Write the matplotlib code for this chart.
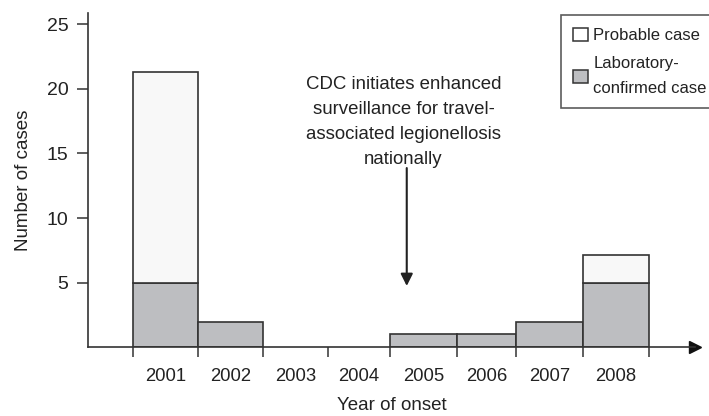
import matplotlib.pyplot as plt
from matplotlib.patches import Patch

plt.rcParams['font.family'] = ['Liberation Sans', 'DejaVu Sans']

# data
years = ['2001', '2002', '2003', '2004', '2005', '2006', '2007', '2008']
confirmed = [5, 2, 0, 0, 1, 1, 2, 5]
probable = [16.3, 0, 0, 0, 0, 0, 0, 2.15]

# bin edges as drawn (bars are not all equally wide in the original)
edges = [2000.5, 2001.51, 2002.52, 2003.53, 2004.49, 2005.53, 2006.45, 2007.49, 2008.5]

gray = '#bdbec1'
light = '#f8f8f8'
edge = '#333333'

fig = plt.figure(figsize=(7.09, 4.16), dpi=100)
ax = fig.add_axes([88 / 709, (416 - 347.4) / 416, (695 - 88) / 709, (347.4 - 13) / 416])

lefts = edges[:-1]
widths = [b - a for a, b in zip(edges[:-1], edges[1:])]
centers = [a + w / 2 for a, w in zip(lefts, widths)]

b1 = ax.bar(lefts, confirmed, width=widths, align='edge', color=gray, edgecolor=edge, linewidth=1.2, zorder=2)
b2 = ax.bar(lefts, probable, width=widths, bottom=confirmed, align='edge', color=light, edgecolor=edge,
            linewidth=1.2, zorder=2)
# years with no cases have no bars at all
for i in range(len(years)):
    if confirmed[i] == 0:
        b1[i].set_visible(False)
    if probable[i] == 0:
        b2[i].set_visible(False)

ax.set_xlim(1999.807, 2009.22)
ax.set_ylim(0, 25.86)

for s in ['top', 'right']:
    ax.spines[s].set_visible(False)
ax.spines['left'].set_color(edge)
ax.spines['bottom'].set_color(edge)
ax.spines['left'].set_linewidth(1.2)
ax.spines['bottom'].set_linewidth(1.2)
ax.plot(1, 0, '>', color='#111111', markersize=9, transform=ax.get_yaxis_transform(), clip_on=False)

ax.set_yticks([5, 10, 15, 20, 25])
ax.tick_params(axis='y', length=8, width=1.1, color=edge, pad=6, labelsize=14, labelcolor='#222222')
ax.set_xticks(edges)
ax.set_xticklabels([])
ax.tick_params(axis='x', which='major', length=7, width=1.1, color=edge, direction='out')
ax.set_xticks(centers, minor=True)
ax.set_xticklabels(years, minor=True)
ax.tick_params(axis='x', which='minor', length=0, pad=15, labelsize=13.3, labelcolor='#222222')

ax.set_xlabel('Year of onset', fontsize=13.5, labelpad=8.5, color='#222222')
ax.set_ylabel('Number of cases', fontsize=13.5, labelpad=11, color='#222222')

ax.text(2004.70, 21.0, 'CDC initiates enhanced\nsurveillance for travel-\nassociated legionellosis\nnationally',
        ha='center', va='top', fontsize=13.4, linespacing=1.62, color='#222222')
ax.annotate('', xy=(2004.75, 4.75), xytext=(2004.75, 13.87),
            arrowprops=dict(arrowstyle='-|>', mutation_scale=18, lw=1.5, color='#222222',
                            shrinkA=0, shrinkB=0))

handles = [Patch(facecolor='white', edgecolor=edge, linewidth=1.1),
           Patch(facecolor=gray, edgecolor=edge, linewidth=1.1)]
leg = ax.legend(handles, ['Probable case', 'Laboratory-\nconfirmed case'], loc='upper left',
                bbox_to_anchor=(560.7 / 709, 1 - 15 / 416), bbox_transform=fig.transFigure,
                fancybox=False, edgecolor=edge, borderaxespad=0, borderpad=0.75,
                handlelength=0.9, handleheight=0.85, handletextpad=0.3, labelspacing=0.8,
                fontsize=12)
leg.get_frame().set_linewidth(1.2)
for t in leg.get_texts():
    t.set_linespacing(1.8)
    t.set_color('#222222')

fig.savefig('out.png', dpi=100)
